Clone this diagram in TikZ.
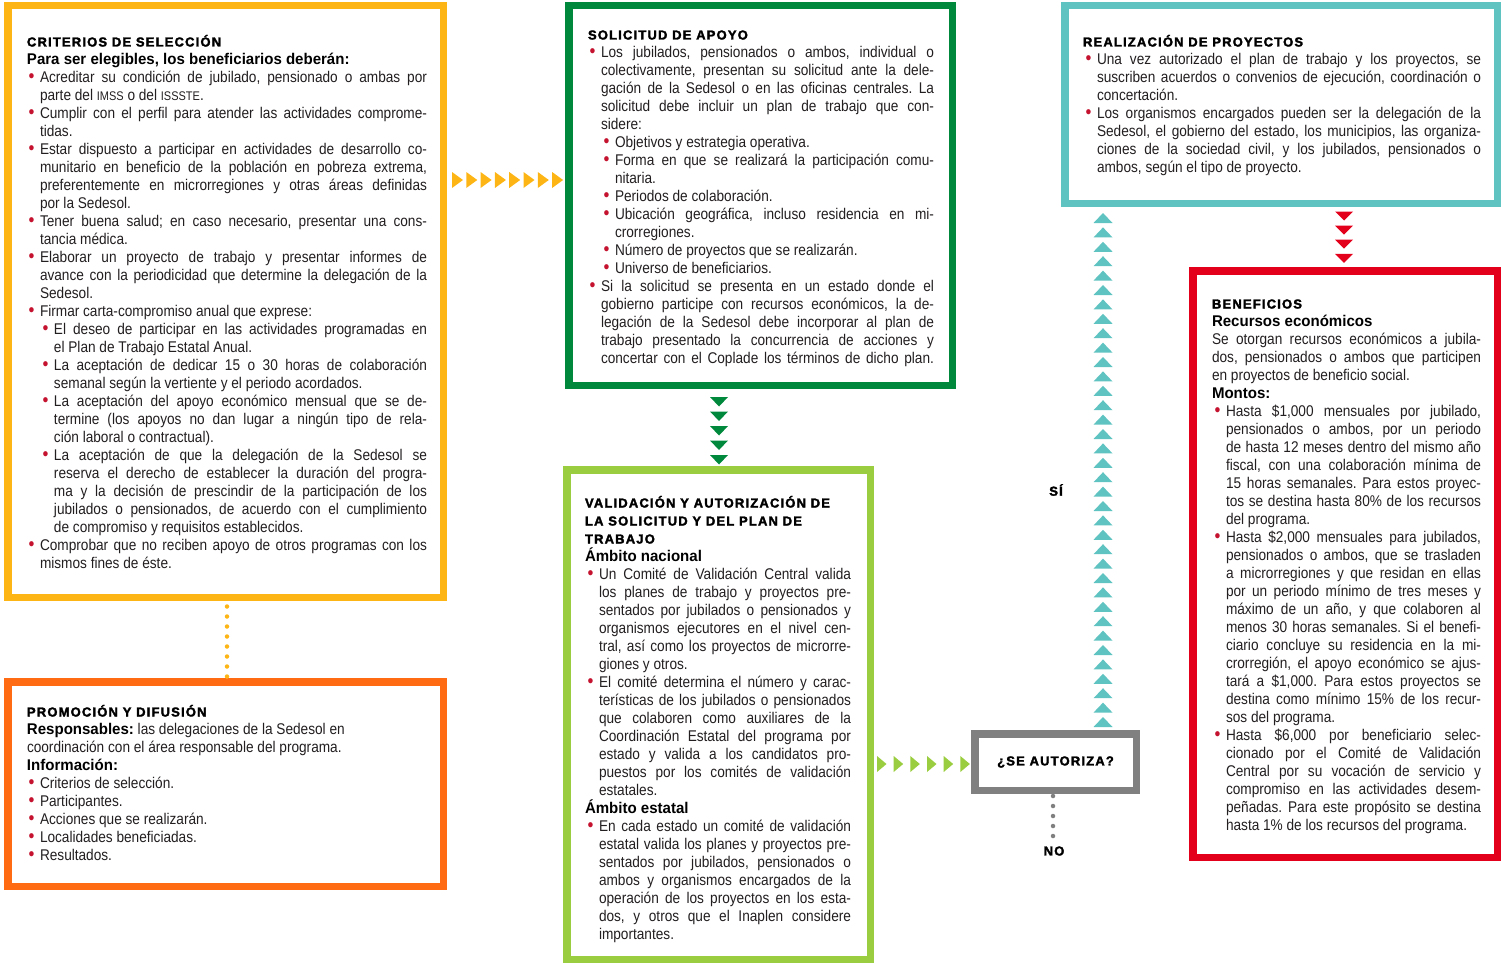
\documentclass[tikz,border=0pt]{standalone}
\usepackage{fontspec}
\setmainfont{Liberation Sans}[FakeStretch=0.88]
\newfontfamily\bff{Liberation Sans}[FakeStretch=0.97]
\newfontfamily\hdf{Liberation Sans}[LetterSpace=9,FakeBold=2.2]
\usetikzlibrary{decorations.markings,calc}
\definecolor{cOr}{HTML}{FDB515}
\definecolor{cGr}{HTML}{00893D}
\definecolor{cCy}{HTML}{5FC3C2}
\definecolor{cRe}{HTML}{E3001B}
\definecolor{cLg}{HTML}{9ACD3F}
\definecolor{cOrb}{HTML}{FF6B12}
\definecolor{cGy}{HTML}{808080}
\definecolor{bulc}{HTML}{C4122F}
\definecolor{txt}{HTML}{231F20}
\newcommand\bul{\llap{\textcolor{bulc}{\fontsize{19}{19}\selectfont •}\hskip5.5pt}}
\newcommand\JL[2]{\moveright#1\hbox to\dimexpr\hsize-#1\relax{#2}}
\newcommand\NL[2]{\moveright#1\hbox{#2}}
\newcommand\hd{\hdf\bfseries\fontsize{13}{18}\selectfont\color{black}}
\newcommand\bd{\bff\bfseries\color{black}}
\newcommand\sm[1]{{\fontsize{12.5}{12}\selectfont #1}}
\newcommand\txtsetup{\fontsize{15.5}{18}\selectfont\frenchspacing\lineskiplimit=-100pt\lineskip=0pt\hbadness=10000\hfuzz=30pt}
\begin{document}
\begin{tikzpicture}[x=1pt,y=-1pt,
  frame/.style={draw=#1, line width=7.5pt, rectangle, inner sep=0pt, fill=white},
  txtn/.style={anchor=base west, inner sep=0pt, outer sep=0pt, text=txt, font=\txtsetup},
  lab/.style={inner sep=0pt, font=\hd},
  chain/.style n args={4}{decorate, decoration={markings,
     mark=between positions 0 and 1 step #2pt with {\fill[#1] (0,-#4) -- (#3,0) -- (0,#4) -- cycle;}}},
  dotl/.style={draw=#1, line width=4.5pt, line cap=round, dash pattern=on 0pt off 10pt}]
\useasboundingbox (0,0) rectangle (1501,963);
% frames
\node[frame=cOr, minimum width=435.5pt, minimum height=591.5pt] (crit) at (225.5,301.5) {};
\node[frame=cGr, minimum width=383.5pt, minimum height=379.5pt] (sol) at (760.5,195.5) {};
\node[frame=cCy, minimum width=432.5pt, minimum height=197.5pt] (realiz) at (1281,104.5) {};
\node[frame=cRe, minimum width=304.5pt, minimum height=586.5pt] (ben) at (1345,564) {};
\node[frame=cLg, minimum width=303.5pt, minimum height=489.5pt] (val) at (718.5,714.5) {};
\node[frame=cOrb, minimum width=435.5pt, minimum height=204.5pt] (prom) at (225.5,784) {};
\node[frame=cGy, minimum width=161.5pt, minimum height=56.5pt, font=\hd] (aut) at (1055.5,762) {¿SE AUTORIZA?};
% texts
\node[txtn] (critT) at (27,46.5) {\vtop{\hsize=400pt
\NL{0pt}{\hd CRITERIOS DE SELECCIÓN}
\NL{0pt}{\bd Para ser elegibles, los beneficiarios deberán:}
\JL{13pt}{\bul Acreditar su condición de jubilado, pensionado o ambas por}
\NL{13pt}{parte del \sm{IMSS} o del \sm{ISSSTE}.}
\JL{13pt}{\bul Cumplir con el perfil para atender las actividades comprome-}
\NL{13pt}{tidas.}
\JL{13pt}{\bul Estar dispuesto a participar en actividades de desarrollo co-}
\JL{13pt}{munitario en beneficio de la población en pobreza extrema,}
\JL{13pt}{preferentemente en microrregiones y otras áreas definidas}
\NL{13pt}{por la Sedesol.}
\JL{13pt}{\bul Tener buena salud; en caso necesario, presentar una cons-}
\NL{13pt}{tancia médica.}
\JL{13pt}{\bul Elaborar un proyecto de trabajo y presentar informes de}
\JL{13pt}{avance con la periodicidad que determine la delegación de la}
\NL{13pt}{Sedesol.}
\NL{13pt}{\bul Firmar carta-compromiso anual que exprese:}
\JL{27pt}{\bul El deseo de participar en las actividades programadas en}
\NL{27pt}{el Plan de Trabajo Estatal Anual.}
\JL{27pt}{\bul La aceptación de dedicar 15 o 30 horas de colaboración}
\NL{27pt}{semanal según la vertiente y el periodo acordados.}
\JL{27pt}{\bul La aceptación del apoyo económico mensual que se de-}
\JL{27pt}{termine (los apoyos no dan lugar a ningún tipo de rela-}
\NL{27pt}{ción laboral o contractual).}
\JL{27pt}{\bul La aceptación de que la delegación de la Sedesol se}
\JL{27pt}{reserva el derecho de establecer la duración del progra-}
\JL{27pt}{ma y la decisión de prescindir de la participación de los}
\JL{27pt}{jubilados o pensionados, de acuerdo con el cumplimiento}
\NL{27pt}{de compromiso y requisitos establecidos.}
\JL{13pt}{\bul Comprobar que no reciben apoyo de otros programas con los}
\NL{13pt}{mismos fines de éste.}
}};
\node[txtn] (solT) at (588,39.5) {\vtop{\hsize=346pt
\NL{0pt}{\hd SOLICITUD DE APOYO}
\JL{13pt}{\bul Los jubilados, pensionados o ambos, individual o}
\JL{13pt}{colectivamente, presentan su solicitud ante la dele-}
\JL{13pt}{gación de la Sedesol o en las oficinas centrales. La}
\JL{13pt}{solicitud debe incluir un plan de trabajo que con-}
\NL{13pt}{sidere:}
\NL{27pt}{\bul Objetivos y estrategia operativa.}
\JL{27pt}{\bul Forma en que se realizará la participación comu-}
\NL{27pt}{nitaria.}
\NL{27pt}{\bul Periodos de colaboración.}
\JL{27pt}{\bul Ubicación geográfica, incluso residencia en mi-}
\NL{27pt}{crorregiones.}
\NL{27pt}{\bul Número de proyectos que se realizarán.}
\NL{27pt}{\bul Universo de beneficiarios.}
\JL{13pt}{\bul Si la solicitud se presenta en un estado donde el}
\JL{13pt}{gobierno participe con recursos económicos, la de-}
\JL{13pt}{legación de la Sedesol debe incorporar al plan de}
\JL{13pt}{trabajo presentado la concurrencia de acciones y}
\JL{13pt}{concertar con el Coplade los términos de dicho plan.}
}};
\node[txtn] (realizT) at (1083,46.5) {\vtop{\hsize=398pt
\NL{0pt}{\hd REALIZACIÓN DE PROYECTOS}
\JL{14pt}{\bul Una vez autorizado el plan de trabajo y los proyectos, se}
\JL{14pt}{suscriben acuerdos o convenios de ejecución, coordinación o}
\NL{14pt}{concertación.}
\JL{14pt}{\bul Los organismos encargados pueden ser la delegación de la}
\JL{14pt}{Sedesol, el gobierno del estado, los municipios, las organiza-}
\JL{14pt}{ciones de la sociedad civil, y los jubilados, pensionados o}
\NL{14pt}{ambos, según el tipo de proyecto.}
}};
\node[txtn] (benT) at (1212,308.5) {\vtop{\hsize=269pt
\NL{0pt}{\hd BENEFICIOS}
\NL{0pt}{\bd Recursos económicos}
\JL{0pt}{Se otorgan recursos económicos a jubila-}
\JL{0pt}{dos, pensionados o ambos que participen}
\NL{0pt}{en proyectos de beneficio social.}
\NL{0pt}{\bd Montos:}
\JL{14pt}{\bul Hasta \$1,000 mensuales por jubilado,}
\JL{14pt}{pensionados o ambos, por un periodo}
\JL{14pt}{de hasta 12 meses dentro del mismo año}
\JL{14pt}{fiscal, con una colaboración mínima de}
\JL{14pt}{15 horas semanales. Para estos proyec-}
\JL{14pt}{tos se destina hasta 80\% de los recursos}
\NL{14pt}{del programa.}
\JL{14pt}{\bul Hasta \$2,000 mensuales para jubilados,}
\JL{14pt}{pensionados o ambos, que se trasladen}
\JL{14pt}{a microrregiones y que residan en ellas}
\JL{14pt}{por un periodo mínimo de tres meses y}
\JL{14pt}{máximo de un año, y que colaboren al}
\JL{14pt}{menos 30 horas semanales. Si el benefi-}
\JL{14pt}{ciario concluye su residencia en la mi-}
\JL{14pt}{crorregión, el apoyo económico se ajus-}
\JL{14pt}{tará a \$1,000. Para estos proyectos se}
\JL{14pt}{destina como mínimo 15\% de los recur-}
\NL{14pt}{sos del programa.}
\JL{14pt}{\bul Hasta \$6,000 por beneficiario selec-}
\JL{14pt}{cionado por el Comité de Validación}
\JL{14pt}{Central por su vocación de servicio y}
\JL{14pt}{compromiso en las actividades desem-}
\JL{14pt}{peñadas. Para este propósito se destina}
\NL{14pt}{hasta 1\% de los recursos del programa.}
}};
\node[txtn] (valT) at (585,507.5) {\vtop{\hsize=266pt
\NL{0pt}{\hd VALIDACIÓN Y AUTORIZACIÓN DE}
\NL{0pt}{\hd LA SOLICITUD Y DEL PLAN DE}
\NL{0pt}{\hd TRABAJO}
\NL{0pt}{\bd Ámbito nacional}
\JL{14pt}{\bul Un Comité de Validación Central valida}
\JL{14pt}{los planes de trabajo y proyectos pre-}
\JL{14pt}{sentados por jubilados o pensionados y}
\JL{14pt}{organismos ejecutores en el nivel cen-}
\JL{14pt}{tral, así como los proyectos de microrre-}
\NL{14pt}{giones y otros.}
\JL{14pt}{\bul El comité determina el número y carac-}
\JL{14pt}{terísticas de los jubilados o pensionados}
\JL{14pt}{que colaboren como auxiliares de la}
\JL{14pt}{Coordinación Estatal del programa por}
\JL{14pt}{estado y valida a los candidatos pro-}
\JL{14pt}{puestos por los comités de validación}
\NL{14pt}{estatales.}
\NL{0pt}{\bd Ámbito estatal}
\JL{14pt}{\bul En cada estado un comité de validación}
\JL{14pt}{estatal valida los planes y proyectos pre-}
\JL{14pt}{sentados por jubilados, pensionados o}
\JL{14pt}{ambos y organismos encargados de la}
\JL{14pt}{operación de los proyectos en los esta-}
\JL{14pt}{dos, y otros que el Inaplen considere}
\NL{14pt}{importantes.}
}};
\node[txtn] (promT) at (27,716.5) {\vtop{\hsize=400pt
\NL{0pt}{\hd PROMOCIÓN Y DIFUSIÓN}
\NL{0pt}{{\bd Responsables:} las delegaciones de la Sedesol en}
\NL{0pt}{coordinación con el área responsable del programa.}
\NL{0pt}{\bd Información:}
\NL{13pt}{\bul Criterios de selección.}
\NL{13pt}{\bul Participantes.}
\NL{13pt}{\bul Acciones que se realizarán.}
\NL{13pt}{\bul Localidades beneficiadas.}
\NL{13pt}{\bul Resultados.}
}};
% connectors
\path[chain={cOr}{14.3}{11}{8}] ($(crit.east|-0,180)+(5,0)$) -- ($(sol.west|-0,180)+(-1,0)$);
\path[chain={cGr}{14.5}{9.5}{9}] ($(sol.south-|719,0)+(0,8)$) -- ($(val.north-|719,0)+(0,-3)$);
\path[chain={cRe}{14.1}{9}{9}] ($(realiz.south-|1344,0)+(0,4.5)$) -- ($(ben.north-|1344,0)+(0,-3)$);
\path[chain={cCy}{14.4}{10}{9.5}] ($(aut.north-|1103,0)+(0,-3)$) -- ($(realiz.south-|1103,0)+(0,14)$);
\path[chain={cLg}{16.67}{9.5}{8}] ($(val.east|-0,764)+(3,0)$) -- ($(aut.west|-0,764)+(-1,0)$);
\draw[dotl=cOr] ($(crit.south-|227,0)+(0,5.5)$) -- ($(prom.north-|227,0)+(0,-1)$);
\coordinate (noend) at (1053,838);
\draw[dotl=cGy] ($(aut.south-|1053,0)+(0,2)$) -- (noend);
\node[lab] (si) at (1056,490) {SÍ};
\node[lab] (no) at (1054,851) {NO};
\end{tikzpicture}
\end{document}
